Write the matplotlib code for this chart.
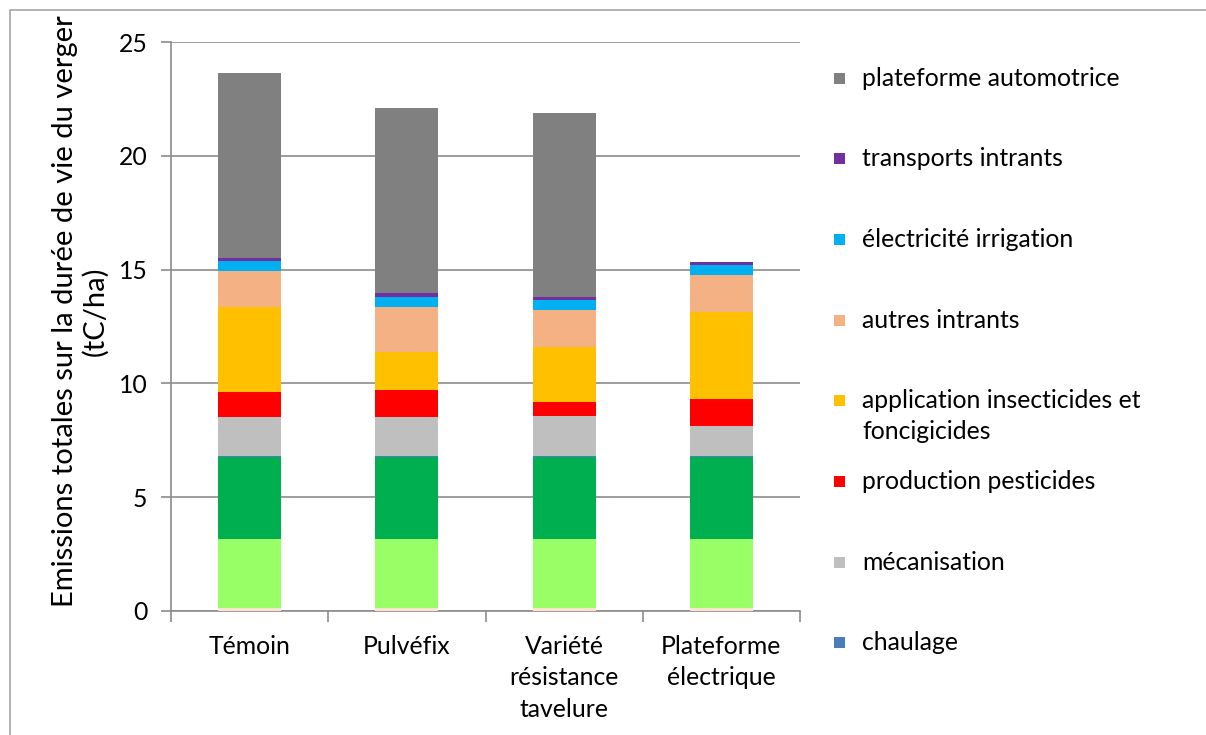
import matplotlib
matplotlib.use("Agg")
import matplotlib.pyplot as plt
from matplotlib.patches import Rectangle
import numpy as np

plt.rcParams['font.family'] = ['Lato', 'DejaVu Sans']

categories = ["Témoin", "Pulvéfix", "Variété\nrésistance\ntavelure", "Plateforme\nélectrique"]

# stacked contributions, bottom to top (tC/ha)
serie_a = [0.13, 0.13, 0.13, 0.13]
serie_b = [3.02, 3.02, 3.02, 3.02]
serie_c = [3.63, 3.63, 3.63, 3.63]
chaulage = [0.02, 0.02, 0.02, 0.02]
mecanisation = [1.74, 1.74, 1.75, 1.34]
production_pesticides = [1.10, 1.16, 0.62, 1.16]
application = [3.70, 1.67, 2.44, 3.82]
autres_intrants = [1.61, 2.00, 1.63, 1.64]
electricite = [0.44, 0.44, 0.42, 0.44]
transports = [0.13, 0.15, 0.14, 0.13]
plateforme = [8.10, 8.13, 8.09, 0.0]

series = [
    (None, serie_a, "#FBE3CF"),
    (None, serie_b, "#99FF66"),
    (None, serie_c, "#00B050"),
    ("chaulage", chaulage, "#4A7EBB"),
    ("mécanisation", mecanisation, "#BFBFBF"),
    ("production pesticides", production_pesticides, "#FF0000"),
    ("application insecticides et\nfoncigicides", application, "#FFC000"),
    ("autres intrants", autres_intrants, "#F4B183"),
    ("électricité irrigation", electricite, "#00B0F0"),
    ("transports intrants", transports, "#7030A0"),
    ("plateforme automotrice", plateforme, "#808080"),
]

y_ticks = [0, 5, 10, 15, 20, 25]

FS = 17.8

fig = plt.figure(figsize=(12.06, 7.35), dpi=100)
ax = fig.add_axes([171 / 1206, 124 / 735, 629 / 1206, 569 / 735])

x = np.arange(len(categories))
bottom = np.zeros(len(categories))
for label, vals, color in series:
    v = np.array(vals)
    ax.bar(x, v, width=0.4, bottom=bottom, color=color, edgecolor="none", zorder=3)
    bottom += v

grid_c = "#8C8C8C"
ax.set_xlim(-0.5, len(categories) - 0.5)
ax.set_ylim(0, 25)
ax.set_yticks(y_ticks)
ax.set_yticklabels([str(t) for t in y_ticks], fontsize=FS)
ax.yaxis.grid(True, color=grid_c, linewidth=1.2, zorder=0)
ax.set_axisbelow(True)

ax.set_xticks(x)
ax.set_xticklabels(categories, fontsize=FS, linespacing=1.45, va="top")
ax.tick_params(axis="x", length=0, pad=17)
ax.set_xticks(np.arange(len(categories) + 1) - 0.5, minor=True)
ax.tick_params(axis="x", which="minor", length=8, color=grid_c, width=1.2)
ax.tick_params(axis="y", length=7, color=grid_c, width=1.2, pad=10)

for s in ["top", "right"]:
    ax.spines[s].set_visible(False)
for s in ["left", "bottom"]:
    ax.spines[s].set_color(grid_c)
    ax.spines[s].set_linewidth(1.2)

ax.set_ylabel("Emissions totales sur la durée de vie du verger\n(tC/ha)",
              fontsize=21, linespacing=1.2, labelpad=7)
ax.yaxis.label.set_y(0.527)

# legend, top entry first
legend_rows = [(l, c) for l, _, c in series if l is not None][::-1]
y0, dy = 78, 80.7
for i, (label, color) in enumerate(legend_rows):
    yc = y0 + i * dy
    fig.patches.append(Rectangle((834 / 1206, 1 - (yc + 5.5) / 735), 11 / 1206, 11 / 735,
                                 transform=fig.transFigure, facecolor=color,
                                 edgecolor="none"))
    for k, line in enumerate(label.split("\n")):
        fig.text(862 / 1206, 1 - (yc + 31 * k) / 735, line, fontsize=FS,
                 va="center", ha="left")

# chart frame
fig.patches.append(Rectangle((10 / 1206, -0.1), 1.2, 1 - 10 / 735 + 0.1,
                             transform=fig.transFigure, facecolor="none",
                             edgecolor="#A6A6A6", linewidth=1.2))

fig.savefig("out.png", dpi=100)
